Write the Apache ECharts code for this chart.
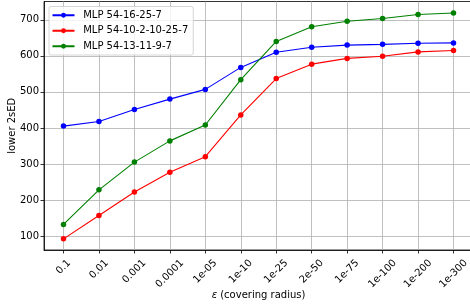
<!DOCTYPE html>
<html><head><meta charset="utf-8">
<script src="https://cdn.jsdelivr.net/npm/echarts@6/dist/echarts.min.js"></script>
<style>html,body{margin:0;padding:0;background:#fff}#c{width:470px;height:308px}</style>
</head><body><div id="c"></div>
<script>
const categories = ['0.1','0.01','0.001','0.0001','1e-05','1e-10','1e-25','2e-50','1e-75','1e-100','1e-200','1e-300'];
const mlpA = [405,418,451,480,507,568,610,624,630,632,635,636];
const mlpB = [92,157,222,277,320,436,537,577,593,599,611,615];
const mlpC = [132,228,305,364,408,534,640,681,696,704,715,719];
const yTicks = [100,200,300,400,500,600,700];
const seriesNames = ['MLP 54-16-25-7','MLP 54-10-2-10-25-7','MLP 54-13-11-9-7'];
const seriesColors = ['#0000ff','#ff0000','#008000'];
const seriesValues = [mlpA, mlpB, mlpC];
const FONT = 'DejaVu Sans';

const xIdx = categories.map((c,i)=>i);
const ctx = document.createElement('canvas').getContext('2d');
ctx.font = '10px "DejaVu Sans"';
const widths = categories.map(c => ctx.measureText(c).width);
const wmin = Math.min(...widths);
const rich = {};
categories.forEach((c,i)=>{
  const p = (widths[i]-wmin)/2;
  rich['t'+i] = {padding:[p,p,0,0], fontFamily:FONT, fontSize:10, color:'#000'};
});

const chart = echarts.init(document.getElementById('c'), null, {renderer:'canvas'});
chart.setOption({
  animation:false,
  backgroundColor:'#fff',
  textStyle:{fontFamily:FONT},
  grid:{left:44, top:1.5, right:-3, bottom:58, containLabel:false, outerBoundsMode:'none', show:true, borderColor:'#000', borderWidth:0.8, backgroundColor:'transparent'},
  legend:{
    orient:'vertical', left:49, top:6.5, padding:[1,5,1,2.5], itemGap:0, itemWidth:22, itemHeight:6,
    borderColor:'#cccccc', borderWidth:0.8, borderRadius:2, backgroundColor:'rgba(255,255,255,0.8)',
    textStyle:{fontFamily:FONT, fontSize:10, color:'#000', lineHeight:15.5, padding:[0,0,0,3.7]},
    data:seriesNames
  },
  xAxis:{
    type:'value', min:-0.55, max:11.55,
    name:'{i|ε} (covering radius)', nameLocation:'middle', nameGap:40, nameMoveOverlap:false,
    nameTextStyle:{fontFamily:FONT, fontSize:10, color:'#000', rich:{i:{fontFamily:FONT, fontSize:10, fontStyle:'italic', color:'#000'}}},
    axisLine:{show:true, onZero:false, lineStyle:{color:'#000', width:0.8}},
    axisTick:{show:true, length:3.5, customValues:xIdx, lineStyle:{color:'#000', width:0.8}},
    axisLabel:{customValues:xIdx, rotate:45, align:'center', verticalAlign:'middle', margin:17,
      formatter:(v)=>'{t'+v+'|'+categories[v]+'}', rich:rich, fontFamily:FONT, fontSize:10, color:'#000'},
    splitLine:{show:true, lineStyle:{color:'#b0b0b0', width:0.8}}
  },
  yAxis:{
    type:'value', min:61, max:751,
    name:'lower 2sED', nameLocation:'middle', nameGap:27, nameMoveOverlap:false,
    nameTextStyle:{fontFamily:FONT, fontSize:10, color:'#000'},
    axisLine:{show:true, onZero:false, lineStyle:{color:'#000', width:0.8}},
    axisTick:{show:true, length:3.5, customValues:yTicks, lineStyle:{color:'#000', width:0.8}},
    axisLabel:{customValues:yTicks, margin:5, fontFamily:FONT, fontSize:10, color:'#000'},
    splitLine:{show:true, lineStyle:{color:'#b0b0b0', width:0.8}}
  },
  series: seriesNames.map((n,k)=>({
    name:n, type:'line', data:xIdx.map(i=>[i, seriesValues[k][i]]),
    color:seriesColors[k], symbol:'circle', symbolSize:5.5, showSymbol:true,
    lineStyle:{width:1.1, color:seriesColors[k]}, itemStyle:{color:seriesColors[k]}, z:2+k
  }))
});
</script></body></html>
